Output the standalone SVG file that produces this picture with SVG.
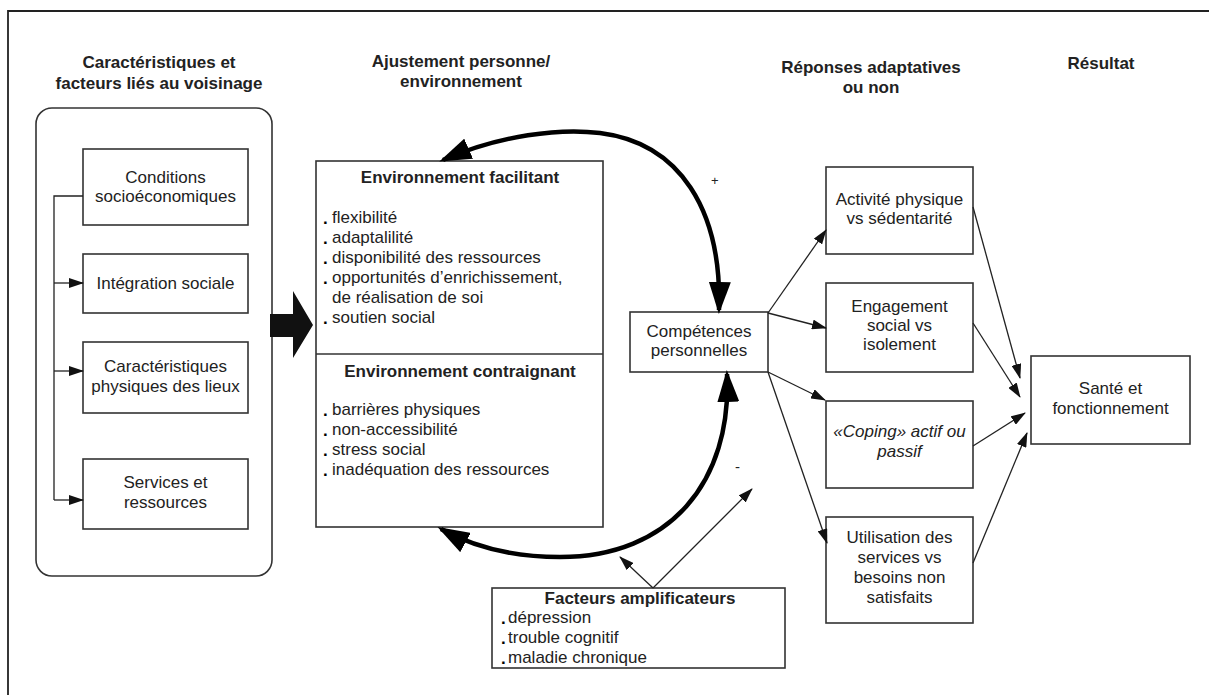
<svg xmlns="http://www.w3.org/2000/svg" width="1209" height="695" viewBox="0 0 1209 695">
<style>
text{font-family:"Liberation Sans",Arial,sans-serif;font-size:17px;fill:#222}
.b{font-weight:bold}
.c{text-anchor:middle}
.i{font-style:italic}
.d{font-weight:bold;fill:#000}
.box{fill:#fff;stroke:#333;stroke-width:1.6}
.thin{fill:none;stroke:#222;stroke-width:1.3}
.thick{fill:none;stroke:#000;stroke-width:4.5}
</style>
<defs>
<marker id="ah" viewBox="0 0 15 10" refX="14" refY="5" markerWidth="15" markerHeight="10" markerUnits="userSpaceOnUse" orient="auto-start-reverse"><path d="M0,0 L15,5 L0,10 z" fill="#111"/></marker>
<marker id="big" viewBox="0 0 32 22" refX="28" refY="11" markerWidth="32" markerHeight="22" markerUnits="userSpaceOnUse" orient="auto-start-reverse"><path d="M0,0 L32,11 L0,22 z" fill="#000"/></marker>
</defs>
<rect width="1209" height="695" fill="#fff"/>
<path d="M8 700 L8 11 L1215 11" fill="none" stroke="#222" stroke-width="1.8"/>

<g id="headers">
<text class="b c" x="159" y="68">Caractéristiques et</text>
<text class="b c" x="159" y="89">facteurs liés au voisinage</text>
<text class="b c" x="461" y="67">Ajustement personne/</text>
<text class="b c" x="461" y="87">environnement</text>
<text class="b c" x="871" y="73">Réponses adaptatives</text>
<text class="b c" x="871" y="93">ou non</text>
<text class="b c" x="1101" y="69">Résultat</text>
</g>

<g id="voisinage">
<rect class="box" x="36" y="108" width="236" height="468" rx="16"/>
</g>
<g id="conditions">
<rect class="box" x="83" y="149" width="165" height="76"/>
<text class="c" x="165.5" y="183">Conditions</text>
<text class="c" x="165.5" y="202">socioéconomiques</text>
</g>
<g id="integration">
<rect class="box" x="83" y="254" width="165" height="59"/>
<text class="c" x="165.5" y="289">Intégration sociale</text>
</g>
<g id="physiques">
<rect class="box" x="83" y="342" width="165" height="71"/>
<text class="c" x="165.5" y="372">Caractéristiques</text>
<text class="c" x="165.5" y="392">physiques des lieux</text>
</g>
<g id="services">
<rect class="box" x="83" y="459" width="165" height="70"/>
<text class="c" x="165.5" y="488">Services et</text>
<text class="c" x="165.5" y="508">ressources</text>
</g>

<g id="environnement">
<rect class="box" x="316" y="161" width="287" height="366"/>
<line x1="316" y1="354" x2="603" y2="354" stroke="#333" stroke-width="1.6"/>
<text class="b c" x="460" y="183">Environnement facilitant</text>
<text class="d" x="323" y="224">.</text><text x="332" y="223">flexibilité</text>
<text class="d" x="323" y="244">.</text><text x="332" y="243">adaptalilité</text>
<text class="d" x="323" y="264">.</text><text x="332" y="263">disponibilité des ressources</text>
<text class="d" x="323" y="284">.</text><text x="332" y="283">opportunités d’enrichissement,</text>
<text x="332" y="303">de réalisation de soi</text>
<text class="d" x="323" y="324">.</text><text x="332" y="323">soutien social</text>
<text class="b c" x="460" y="377">Environnement contraignant</text>
<text class="d" x="323" y="416">.</text><text x="332" y="415">barrières physiques</text>
<text class="d" x="323" y="436">.</text><text x="332" y="435">non-accessibilité</text>
<text class="d" x="323" y="456">.</text><text x="332" y="455">stress social</text>
<text class="d" x="323" y="476">.</text><text x="332" y="475">inadéquation des ressources</text>
</g>

<g id="competences">
<rect class="box" x="630" y="312" width="138" height="60"/>
<text class="c" x="699" y="337">Compétences</text>
<text class="c" x="699" y="356">personnelles</text>
</g>

<g id="facteurs">
<rect class="box" x="492" y="588" width="293" height="80"/>
<text class="b c" x="640" y="604">Facteurs amplificateurs</text>
<text class="d" x="501" y="624">.</text><text x="508" y="623">dépression</text>
<text class="d" x="501" y="644">.</text><text x="508" y="643">trouble cognitif</text>
<text class="d" x="501" y="664">.</text><text x="508" y="663">maladie chronique</text>
</g>

<g id="activite">
<rect class="box" x="826" y="167" width="147" height="87"/>
<text class="c" x="899.5" y="205">Activité physique</text>
<text class="c" x="899.5" y="224">vs sédentarité</text>
</g>
<g id="engagement">
<rect class="box" x="826" y="283" width="147" height="89"/>
<text class="c" x="899.5" y="312">Engagement</text>
<text class="c" x="899.5" y="331">social vs</text>
<text class="c" x="899.5" y="350">isolement</text>
</g>
<g id="coping">
<rect class="box" x="826" y="401" width="147" height="87"/>
<text class="c i" x="899.5" y="437">«Coping» actif ou</text>
<text class="c i" x="899.5" y="457">passif</text>
</g>
<g id="utilisation">
<rect class="box" x="826" y="517" width="147" height="106"/>
<text class="c" x="899.5" y="543">Utilisation des</text>
<text class="c" x="899.5" y="563">services vs</text>
<text class="c" x="899.5" y="583">besoins non</text>
<text class="c" x="899.5" y="603">satisfaits</text>
</g>
<g id="sante">
<rect class="box" x="1031" y="356" width="159" height="88"/>
<text class="c" x="1110.5" y="394">Santé et</text>
<text class="c" x="1110.5" y="414">fonctionnement</text>
</g>

<g id="connectors">
<polyline class="thin" points="83,196 54,196 54,500"/>
<line class="thin" x1="54" y1="283" x2="83" y2="283" marker-end="url(#ah)"/>
<line class="thin" x1="54" y1="371" x2="83" y2="371" marker-end="url(#ah)"/>
<line class="thin" x1="54" y1="500" x2="83" y2="500" marker-end="url(#ah)"/>
<polygon points="270,314 293,314 293,291 313,325 293,358 293,337 270,337" fill="#111"/>
<path class="thick" d="M443 160 C500 135 560 128 600 133 C680 143 722 210 719 310" marker-start="url(#big)" marker-end="url(#big)"/>
<path class="thick" d="M727 374 C732 482 670 557 560 557 C510 557 470 545 441 529" marker-start="url(#big)" marker-end="url(#big)"/>
<text x="711" y="185" style="font-size:13px">+</text>
<text x="735" y="472" style="font-size:15px">-</text>
<line class="thin" x1="653" y1="588" x2="620" y2="557" marker-end="url(#ah)"/>
<line class="thin" x1="653" y1="588" x2="752" y2="489" marker-end="url(#ah)"/>
<line class="thin" x1="768" y1="313" x2="826" y2="230" marker-end="url(#ah)"/>
<line class="thin" x1="768" y1="313" x2="826" y2="328" marker-end="url(#ah)"/>
<line class="thin" x1="768" y1="372" x2="825" y2="400" marker-end="url(#ah)"/>
<line class="thin" x1="768" y1="372" x2="827" y2="543" marker-end="url(#ah)"/>
<line class="thin" x1="973" y1="207" x2="1020" y2="378" marker-end="url(#ah)"/>
<line class="thin" x1="973" y1="323" x2="1020" y2="397" marker-end="url(#ah)"/>
<line class="thin" x1="973" y1="446" x2="1025" y2="413" marker-end="url(#ah)"/>
<line class="thin" x1="973" y1="563" x2="1027" y2="433" marker-end="url(#ah)"/>
</g>
</svg>
